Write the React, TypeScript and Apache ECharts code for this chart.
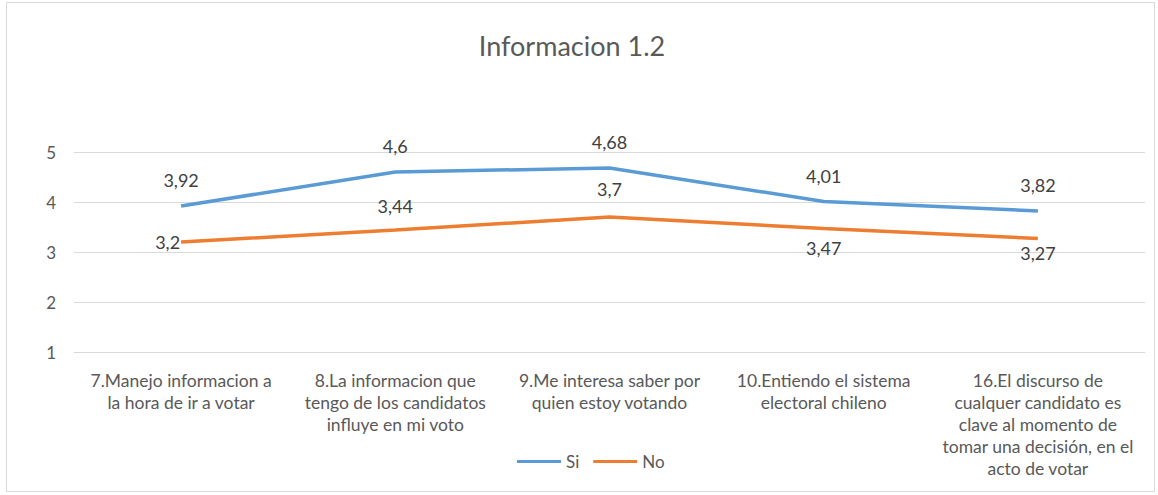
import React, { useEffect, useRef } from "react";
import * as echarts from "echarts";

const categories = [
  "7.Manejo informacion a\nla hora de ir a votar",
  "8.La informacion que\ntengo de los candidatos\ninfluye en mi voto",
  "9.Me interesa saber por\nquien estoy votando",
  "10.Entiendo el sistema\nelectoral chileno",
  "16.El discurso de\ncualquer candidato es\nclave al momento de\ntomar una decisión, en el\nacto de votar",
];
const siValues = [3.92, 4.6, 4.68, 4.01, 3.82];
const noValues = [3.2, 3.44, 3.7, 3.47, 3.27];
const yTicks = [1, 2, 3, 4, 5];
const noLabelPositions = ["left", "top", "top", "bottom", "bottom"];
const noLabelDistances = [1, 15, 19, 10, 5];

const FONT = "Lato, 'Open Sans', sans-serif";
const fmt = (v: number) => String(v).replace(".", ",");

export default function App() {
  const ref = useRef<HTMLDivElement>(null);
  useEffect(() => {
    document.body.style.margin = "0";
    const chart = echarts.init(ref.current!, null, { renderer: "svg" });
    chart.setOption({
      animation: false,
      backgroundColor: "#ffffff",
      title: {
        text: "Informacion 1.2",
        left: 567,
        top: 27,
        textAlign: "center",
        textStyle: { fontFamily: FONT, fontSize: 27, fontWeight: "normal", color: "#595959" },
      },
      graphic: [
        {
          type: "rect",
          shape: { x: 6.5, y: 2.5, width: 1148, height: 489 },
          style: { fill: "none", stroke: "#d9d9d9", lineWidth: 1 },
          silent: true,
        },
      ],
      legend: {
        left: 512,
        top: 448,
        itemWidth: 44,
        itemHeight: 3,
        itemGap: 14,
        icon: "rect",
        textStyle: { fontFamily: FONT, fontSize: 17, color: "#595959" },
        data: ["Si", "No"],
      },
      grid: { left: 74, right: 13, top: 152, bottom: 143 },
      xAxis: {
        type: "category",
        data: categories,
        boundaryGap: true,
        axisLine: { show: true, lineStyle: { color: "#d9d9d9" } },
        axisTick: { show: false },
        axisLabel: {
          interval: 0,
          margin: 17,
          fontFamily: FONT,
          fontSize: 17.5,
          lineHeight: 22,
          color: "#595959",
          align: "center",
        },
      },
      yAxis: {
        type: "value",
        min: 1,
        max: 5,
        interval: 1,
        axisLine: { show: false },
        axisTick: { show: false },
        splitLine: { lineStyle: { color: "#d9d9d9" } },
        axisLabel: {
          fontFamily: FONT,
          fontSize: 17,
          color: "#595959",
          margin: 18,
          formatter: (v: number) => (yTicks.includes(v) ? String(v) : ""),
        },
      },
      series: [
        {
          name: "Si",
          type: "line",
          data: siValues,
          symbol: "circle",
          symbolSize: 0,
          showSymbol: true,
          lineStyle: { color: "#5b9bd5", width: 3.5 },
          itemStyle: { color: "#5b9bd5" },
          label: {
            show: true,
            position: "top",
            distance: 17,
            fontFamily: FONT,
            fontSize: 18,
            color: "#404040",
            formatter: (p: any) => fmt(p.value),
          },
        },
        {
          name: "No",
          type: "line",
          data: noValues.map((v, i) => ({
            value: v,
            label: {
              position: noLabelPositions[i],
              distance: noLabelDistances[i],
            },
          })),
          symbol: "circle",
          symbolSize: 0,
          showSymbol: true,
          lineStyle: { color: "#ed7d31", width: 3.5 },
          itemStyle: { color: "#ed7d31" },
          label: {
            show: true,
            fontFamily: FONT,
            fontSize: 18,
            color: "#404040",
            formatter: (p: any) => fmt(p.value),
          },
        },
      ],
    });
    return () => chart.dispose();
  }, []);
  return <div ref={ref} style={{ width: 1158, height: 495 }} />;
}
